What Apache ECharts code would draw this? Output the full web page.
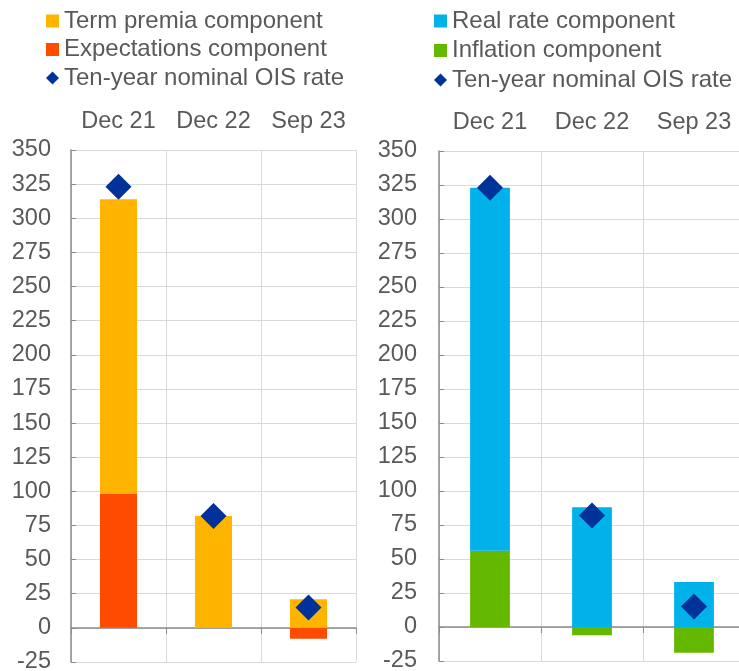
<!DOCTYPE html>
<html>
<head>
<meta charset="utf-8">
<script src="https://cdn.jsdelivr.net/npm/echarts@6/dist/echarts.min.js"></script>
<style>
  html, body { margin: 0; padding: 0; background: #fff; }
  #chart { width: 739px; height: 671px; }
</style>
</head>
<body>
<div id="chart"></div>
<script>
  // data (basis points)
  var categories = ['Dec 21', 'Dec 22', 'Sep 23']
  var termPremia = [216, 82, 21]
  var expectations = [98, 0, -8]
  var realRate = [267, 88, 33]
  var inflation = [56, -6, -19]
  var oisRate = [323, 82, 15]
  var yMin = -25, yMax = 350, yStep = 25

  var textColor = '#595959'
  var gridColor = '#d9d9d9'
  var axisColor = '#8c8c8c'
  var font = 'Liberation Sans, Arial, sans-serif'
  var fs = 23.5

  var chart = echarts.init(document.getElementById('chart'))

  function topAxis(gi) {
    return {
      type: 'category', gridIndex: gi, position: 'top', data: categories,
      axisLine: { show: false, onZero: false }, axisTick: { show: false },
      axisLabel: { color: textColor, fontSize: fs, fontFamily: font, margin: 16, interval: 0, hideOverlap: false },
      splitLine: { show: true, interval: 0, lineStyle: { color: gridColor, width: 1 } }
    }
  }
  function zeroAxis(gi) {
    return {
      type: 'category', gridIndex: gi, position: 'bottom', data: categories,
      axisLine: { show: true, onZero: true, lineStyle: { color: axisColor, width: 1.5 } },
      axisTick: { show: true, interval: 0, length: 6, lineStyle: { color: axisColor } },
      axisLabel: { show: false },
      splitLine: { show: false }
    }
  }
  function valAxis(gi, margin) {
    return {
      type: 'value', gridIndex: gi, min: yMin, max: yMax, interval: yStep,
      axisLine: { show: true, lineStyle: { color: axisColor, width: 1.5 } },
      axisTick: { show: true, inside: true, length: 5, lineStyle: { color: axisColor } },
      axisLabel: { color: textColor, fontSize: fs, fontFamily: font, margin: margin },
      splitLine: { show: true, lineStyle: { color: gridColor, width: 1 } }
    }
  }
  function legend(left, gap, names) {
    return {
      orient: 'vertical', left: left, top: 9, itemGap: gap, padding: 0,
      itemWidth: 13, itemHeight: 13,
      textStyle: { color: textColor, fontSize: 24, fontFamily: font },
      data: [
        { name: names[0], icon: 'rect' },
        { name: names[1], icon: 'rect' },
        { name: names[2], icon: 'diamond' }
      ]
    }
  }

  chart.setOption({
    animation: false,
    legend: [
      legend(46, 4.5, ['Term premia component', 'Expectations component', 'Ten-year nominal OIS rate']),
      legend(434, 5.5, ['Real rate component', 'Inflation component', 'Ten-year nominal OIS rate'])
    ],
    grid: [
      { left: 71, top: 150, width: 285, bottom: 9, outerBoundsMode: 'none' },
      { left: 439, top: 151, width: 306, bottom: 10, outerBoundsMode: 'none' }
    ],
    xAxis: [topAxis(0), zeroAxis(0), topAxis(1), zeroAxis(1)],
    yAxis: [valAxis(0, 20), valAxis(1, 22)],
    series: [
      {
        name: 'Expectations component', type: 'bar', stack: 'l', xAxisIndex: 1, yAxisIndex: 0,
        barWidth: '39%', itemStyle: { color: '#ff4b00' }, data: expectations
      },
      {
        name: 'Term premia component', type: 'bar', stack: 'l', xAxisIndex: 1, yAxisIndex: 0,
        barWidth: '39%', itemStyle: { color: '#ffb400' }, data: termPremia
      },
      {
        name: 'Ten-year nominal OIS rate', type: 'scatter', xAxisIndex: 1, yAxisIndex: 0,
        symbol: 'diamond', symbolSize: 26, itemStyle: { color: '#003299', opacity: 1 }, data: oisRate, z: 5
      },
      {
        name: 'Inflation component', type: 'bar', stack: 'r', xAxisIndex: 3, yAxisIndex: 1,
        barWidth: '39%', itemStyle: { color: '#65b800' }, data: inflation
      },
      {
        name: 'Real rate component', type: 'bar', stack: 'r', xAxisIndex: 3, yAxisIndex: 1,
        barWidth: '39%', itemStyle: { color: '#00b1ea' }, data: realRate
      },
      {
        name: 'Ten-year nominal OIS rate', type: 'scatter', xAxisIndex: 3, yAxisIndex: 1,
        symbol: 'diamond', symbolSize: 26, itemStyle: { color: '#003299', opacity: 1 }, data: oisRate, z: 5
      }
    ]
  })
</script>
</body>
</html>
